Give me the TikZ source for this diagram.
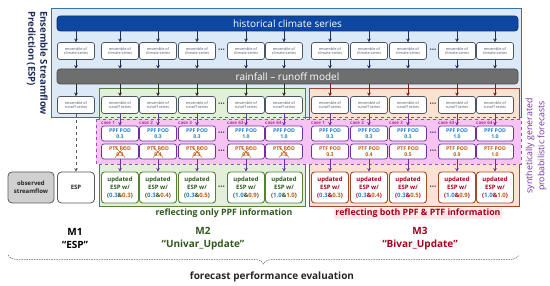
\documentclass[tikz,border=0pt]{standalone}
\usepackage{fontspec}
\setmainfont{Open Sans}
\usepackage{xcolor}
\usetikzlibrary{positioning,calc,arrows.meta,decorations.pathreplacing}

\definecolor{espfill}{HTML}{DCEAF7}
\definecolor{espedge}{HTML}{2E75B6}
\definecolor{histblue}{HTML}{0D47A1}
\definecolor{histedge}{HTML}{0A3470}
\definecolor{raingray}{HTML}{6E6E6E}
\definecolor{rainedge}{HTML}{4A4A4A}
\definecolor{navyarr}{HTML}{1F2D5A}
\definecolor{darkarr}{HTML}{262626}
\definecolor{redarr}{HTML}{7A1A1A}
\definecolor{ensgray}{HTML}{4A5568}
\definecolor{greenfill}{HTML}{E2F0D9}
\definecolor{greenedge}{HTML}{548235}
\definecolor{greentext}{HTML}{2F5A1C}
\definecolor{redfill}{HTML}{FBE3D4}
\definecolor{rededge}{HTML}{A5482A}
\definecolor{redtext}{HTML}{A8001C}
\definecolor{pinkfill}{HTML}{F5C4F2}
\definecolor{pinkedge}{HTML}{9B4FB8}
\definecolor{podpurple}{HTML}{7030A0}
\definecolor{casepink}{HTML}{B8309F}
\definecolor{ppfblue}{HTML}{1F7FD0}
\definecolor{ptfred}{HTML}{C55A11}
\definecolor{obsgray}{HTML}{D0D0D0}
\definecolor{obsedge}{HTML}{595959}
\definecolor{labelpink}{HTML}{FDE8EA}

\newcommand{\podpair}[2]{({\color{ppfblue}#1}\&{\color{ptfred}#2})}

\begin{document}
\begin{tikzpicture}[
  x=1pt, y=-1pt,
  flow/.style={-{Stealth[length=3.5pt,width=3.6pt]}, line width=0.9pt},
  bar/.style={draw, rounded corners=3pt, line width=0.6pt, text=white,
    minimum width=461pt, minimum height=15pt, inner sep=0pt,
    font=\fontsize{10}{11}\selectfont},
  ensbox/.style={draw=ensgray, fill=white, rounded corners=2.5pt, line width=0.7pt,
    minimum width=37pt, minimum height=17pt, inner sep=0pt, align=center,
    text=ensgray, font=\fontsize{3.8}{4.6}\selectfont},
  podbox/.style={draw=podpurple, fill=white, rounded corners=2.5pt, line width=0.7pt,
    minimum width=37pt, minimum height=15pt, inner sep=0pt, align=center,
    font=\bfseries\fontsize{5.2}{6.6}\selectfont},
  updbox/.style={fill=white, rounded corners=3pt, line width=0.9pt,
    minimum width=37pt, minimum height=31pt, inner sep=0pt, align=center,
    font=\bfseries\fontsize{6}{8.2}\selectfont},
  caselbl/.style={anchor=west, inner sep=0pt, text=casepink,
    font=\bfseries\fontsize{4.5}{5}\selectfont},
  dots/.style={inner sep=0pt, text=darkarr, font=\bfseries\fontsize{8}{8}\selectfont},
  mlbl/.style={align=center, font=\bfseries\fontsize{10}{12.5}\selectfont}
]

\useasboundingbox (0,0) rectangle (550,286);

% Regions
\draw[draw=espedge, fill=espfill, line width=0.8pt] (51,8) rectangle (521,117);
\draw[draw=greenedge, fill=greenfill, line width=0.8pt] (99,88) rectangle (305,206);
\draw[draw=rededge, fill=redfill, line width=0.8pt] (309,88) rectangle (519,206);
\draw[draw=pinkedge, fill=pinkfill, dashed, line width=0.8pt] (96,119) rectangle (521,164);
\draw[espedge, dashed, line width=0.8pt] (99,117) -- (521,117);

% Bars
\node[bar, fill=histblue, draw=histedge] (hist) at (287.5,23.5) {historical climate series};
\node[bar, fill=raingray, draw=rainedge] (rain) at (287.5,76.5) {rainfall -- runoff model};

% Ensemble rows
\foreach \n/\x/\c in {e/76/darkarr, g1/120/darkarr, g2/158/darkarr, g3/197/darkarr,
    g4/246/darkarr, g5/284/darkarr, r1/330/redarr, r2/369/redarr, r3/408/redarr,
    r4/457/redarr, r5/495/redarr} {
  \node[ensbox] (cl\n) at (\x,51) {ensemble of\\climate series};
  \node[ensbox] (ro\n) at (\x,105) {ensemble of\\runoff series};
  \draw[flow, navyarr] (hist.south -| cl\n) -- (cl\n.north);
  \draw[flow, navyarr] (cl\n.south) -- (rain.north -| cl\n);
  \draw[flow, \c] (rain.south -| ro\n) -- (ro\n.north);
}

% Synthetic forecasts
\foreach \n/\x/\k/\pp/\pt in {g1/120/1/0.3/0.3, g2/158/2/0.3/0.4, g3/197/3/0.3/0.5,
    g4/246/63/1.0/0.9, g5/284/64/1.0/1.0, r1/330/1/0.3/0.3, r2/369/2/0.3/0.4,
    r3/408/3/0.3/0.5, r4/457/63/1.0/0.9, r5/495/64/1.0/1.0} {
  \node[caselbl] (case\n) at (\x-19,122.5) {case \k};
  \node[podbox] (ppf\n) at (\x,133.5) {{\color{ppfblue}PPF POD}\\{\color{ppfblue}\pp}};
  \node[podbox] (ptf\n) at (\x,151.5) {{\color{ptfred}PTF POD}\\{\color{ptfred}\pt}};
  \draw[flow, podpurple] (ro\n.south) -- (ppf\n.north);
}

% Updated ESP
\foreach \n/\x/\pp/\pt in {g1/120/0.3/0.3, g2/158/0.3/0.4, g3/197/0.3/0.5,
    g4/246/1.0/0.9, g5/284/1.0/1.0} {
  \node[updbox, draw=greenedge, text=greentext] (upd\n) at (\x,187.5) {updated\\ESP w/\\\podpair{\pp}{\pt}};
  \draw[flow, podpurple] (ptf\n.south) -- (upd\n.north);
  \draw[ptfred, line width=0.5pt] ($(ptf\n.center)+(-5,-5)$) -- ($(ptf\n.center)+(5,6)$);
  \draw[ptfred, line width=0.5pt] ($(ptf\n.center)+(5,-5)$) -- ($(ptf\n.center)+(-5,6)$);
}
\foreach \n/\x/\pp/\pt in {r1/330/0.3/0.3, r2/369/0.3/0.4, r3/408/0.3/0.5,
    r4/457/1.0/0.9, r5/495/1.0/1.0} {
  \node[updbox, draw=rededge, text=redtext] (upd\n) at (\x,187.5) {updated\\ESP w/\\\podpair{\pp}{\pt}};
  \draw[flow, podpurple] (ptf\n.south) -- (upd\n.north);
}

% Dots between columns
\foreach \y [count=\i] in {51,105,133.5,151.5,187.5} {
  \node[dots] (dg\i) at (221.5,\y) {···};
  \node[dots] (dr\i) at (433,\y) {···};
}

% ESP column
\node[draw=obsedge, fill=obsgray, rounded corners=4pt, line width=0.8pt, minimum width=46pt,
  minimum height=31pt, inner sep=0pt, align=center, text=darkarr,
  font=\bfseries\fontsize{6}{7.5}\selectfont] (obs) at (31,187.5) {observed\\streamflow};
\node[draw=obsedge, fill=white, rounded corners=4pt, line width=0.8pt, minimum width=37pt,
  minimum height=31pt, inner sep=0pt, text=darkarr,
  font=\bfseries\fontsize{6}{7.5}\selectfont] (esp) at (76,187.5) {ESP};
\draw[flow, obsedge, dashed] (roe.south) -- (esp.north);

% Side texts
\node[rotate=-90, anchor=north west, align=left, inner sep=0pt, text=navyarr,
  font=\bfseries\fontsize{9.6}{12}\selectfont] (esptitle) at (48,11) {Ensemble Streamflow\\Prediction (ESP)};
\node[rotate=90, align=center, inner sep=0pt, text=podpurple,
  font=\fontsize{8.8}{12}\selectfont] (synth) at (536,146) {synthetically generated\\probabilistic forecasts};

% Region labels
\node[inner sep=1pt, text=greentext, font=\bfseries\fontsize{8.8}{10}\selectfont] (onlyppf) at (224,213.5) {reflecting only PPF information};
\node[fill=labelpink, inner sep=1.5pt, text=redtext, font=\bfseries\fontsize{8.8}{10}\selectfont] (bothpf) at (418,213.5) {reflecting both PPF \& PTF information};

\node[mlbl, text=black] (m1) at (75,238.5) {M1\\“ESP”};
\node[mlbl, text=greentext] (m2) at (203,238.5) {M2\\“Univar\_Update”};
\node[mlbl, text=redtext] (m3) at (420,238.5) {M3\\“Bivar\_Update”};

% Evaluation brace
\coordinate (bl) at (8,255);
\coordinate (br) at (519,255);
\draw[obsedge, line width=0.5pt, dash pattern=on 1.5pt off 1pt, decorate,
  decoration={brace, mirror, amplitude=9pt}] (bl) -- (br);
\node[text=darkarr, font=\bfseries\fontsize{10}{12}\selectfont] (evalnote) at (272,277) {forecast performance evaluation};

\end{tikzpicture}
\end{document}
